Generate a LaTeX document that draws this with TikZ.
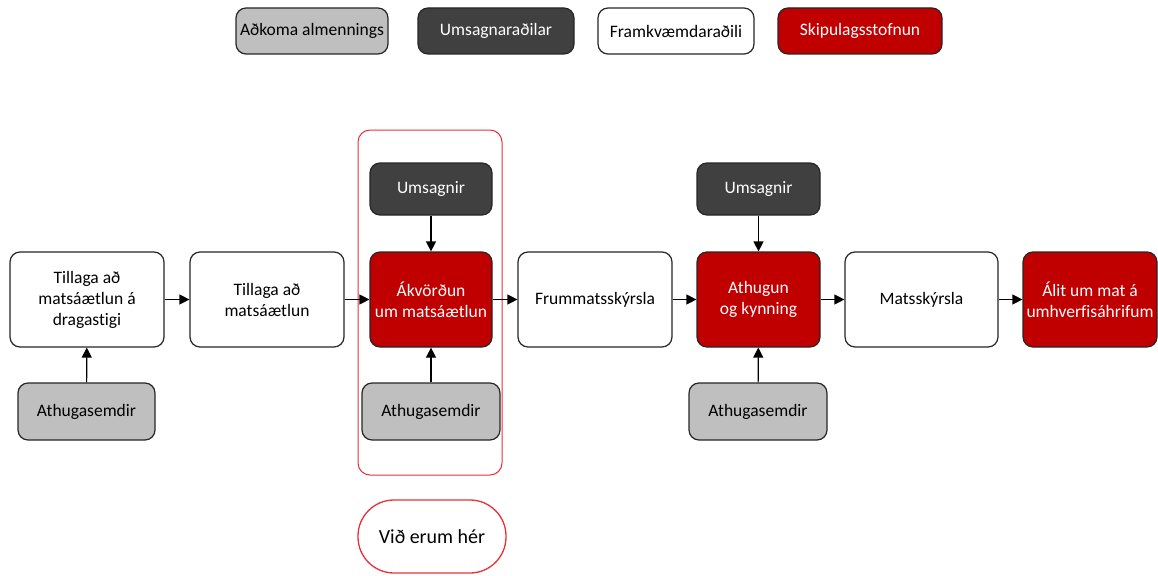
\documentclass[tikz,border=0pt]{standalone}
\usepackage{fontspec}
\setmainfont[Ligatures={NoCommon}]{Carlito}
\usetikzlibrary{arrows.meta}
\definecolor{sred}{HTML}{C00000}
\definecolor{dgrey}{HTML}{404040}
\definecolor{lgrey}{HTML}{BFBFBF}
\definecolor{frred}{HTML}{E8303A}
\tikzset{
  base/.style={draw=black!85, line width=1.2pt, rounded corners=10pt, align=center, inner sep=2pt,
     font=\fontsize{17.5}{21}\selectfont},
  whitebox/.style={base, fill=white, text=black},
  redbox/.style={base, fill=sred, text=white},
  darkbox/.style={base, fill=dgrey, text=white},
  greybox/.style={base, fill=lgrey, text=black},
  arr/.style={-{Triangle[length=10pt,width=10pt]}, line width=1.2pt, black},
}
\begin{document}
\begin{tikzpicture}[x=1pt,y=-1pt]
\useasboundingbox (0,0) rectangle (1158,575);
% legend
\node[greybox, minimum width=152pt, minimum height=46pt] (l1) at (312,31) {Aðkoma almennings};
\node[darkbox, minimum width=156pt, minimum height=46pt] (l2) at (496,31) {Umsagnaraðilar};
\node[whitebox, minimum width=156pt, minimum height=46pt] (l3) at (676,31) {Framkvæmdaraðili};
\node[redbox, minimum width=164pt, minimum height=46pt] (l4) at (860,31) {Skipulagsstofnun};
% frame
\draw[frred, line width=1pt, rounded corners=12pt] (358,130) rectangle (502,475);
% main row
\node[whitebox, minimum width=154pt, minimum height=95pt] (b1) at (87,299.5) {Tillaga að\\matsáætlun á\\dragastigi};
\node[whitebox, minimum width=154pt, minimum height=95pt] (b2) at (267,299.5) {Tillaga að\\matsáætlun};
\node[redbox, minimum width=122pt, minimum height=95pt] (b3) at (431,299.5) {Ákvörðun\\um matsáætlun};
\node[whitebox, minimum width=154pt, minimum height=95pt] (b4) at (595,299.5) {Frummatsskýrsla};
\node[redbox, minimum width=123pt, minimum height=95pt] (b5) at (758.5,299.5) {Athugun\\og kynning};
\node[whitebox, minimum width=153pt, minimum height=95pt] (b6) at (921.5,299.5) {Matsskýrsla};
\node[redbox, minimum width=134pt, minimum height=95pt] (b7) at (1090,299.5) {Álit um mat á\\umhverfisáhrifum};
% umsagnir
\node[darkbox, minimum width=122pt, minimum height=52pt] (u1) at (431,189) {Umsagnir};
\node[darkbox, minimum width=123pt, minimum height=52pt] (u2) at (758.5,189) {Umsagnir};
% athugasemdir
\node[greybox, minimum width=137pt, minimum height=57pt] (a1) at (86.5,411.5) {Athugasemdir};
\node[greybox, minimum width=138pt, minimum height=57pt] (a2) at (431,411.5) {Athugasemdir};
\node[greybox, minimum width=138pt, minimum height=57pt] (a3) at (758,411.5) {Athugasemdir};
% we are here
\node[draw=frred, line width=1.3pt, rounded corners=36pt, fill=white, minimum width=148pt, minimum height=73pt,
  font=\fontsize{20}{24}\selectfont] (here) at (432,536.5) {Við erum hér};
% arrows
\draw[arr] (b1) -- (b2);
\draw[arr] (b2) -- (b3);
\draw[arr] (b3) -- (b4);
\draw[arr] (b4) -- (b5);
\draw[arr] (b5) -- (b6);
\draw[arr] (b6) -- (b7);
\draw[arr] (u1) -- (b3);
\draw[arr] (u2) -- (b5);
\draw[arr] (a1) -- (b1);
\draw[arr] (a2) -- (b3);
\draw[arr] (a3) -- (b5);
\end{tikzpicture}
\end{document}
